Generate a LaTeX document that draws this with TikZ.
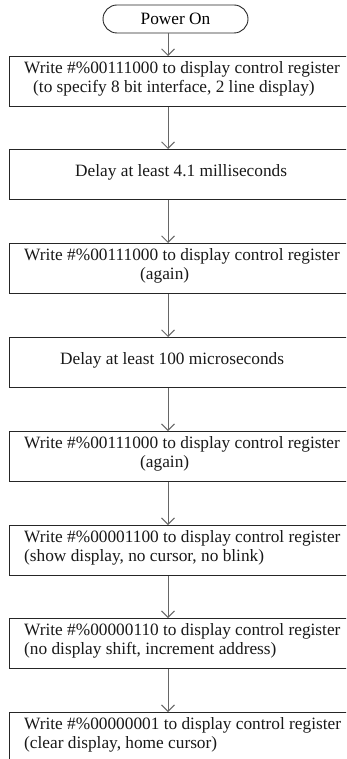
\documentclass[tikz,border=0pt]{standalone}
\usepackage{fontspec}
\setmainfont{Liberation Serif}
\usetikzlibrary{arrows.meta}
\begin{document}
\begin{tikzpicture}[x=1pt,y=-1pt,
  stepbox/.style={draw=black!85, line width=0.9pt, inner sep=0pt,
                  minimum width=351pt, minimum height=50pt, anchor=north west},
  termbox/.style={draw=black!85, line width=0.9pt, rounded corners=14pt,
                  minimum width=145pt, minimum height=28pt, inner sep=0pt,
                  font=\fontsize{17.3}{19}\selectfont},
  flow/.style={draw=black!60, line width=0.9pt,
               -{Straight Barb[length=6.5pt,width=13pt]}},
  txt/.style={inner sep=0pt, font=\fontsize{17.3}{19}\selectfont,
              text=black!90, anchor=mid west},
  ctxt/.style={inner sep=0pt, font=\fontsize{17.3}{19}\selectfont,
              text=black!90, anchor=mid}]
\useasboundingbox (0,0) rectangle (346,759);
\clip (0,0) rectangle (346,759);
\fill[white] (0,0) rectangle (346,759);

% arrow axis
\coordinate (ax) at (168,0);

% start terminal
\node[termbox] (start) at (175.5,19) {Power On};

% process boxes
\node[stepbox] (b1) at (9,56)  {};
\node[stepbox] (b2) at (9,149) {};
\node[stepbox] (b3) at (9,243) {};
\node[stepbox] (b4) at (9,337) {};
\node[stepbox] (b5) at (9,431) {};
\node[stepbox] (b6) at (9,525) {};
\node[stepbox] (b7) at (9,618) {};
\node[stepbox] (b8) at (9,712) {};

% box texts
\node[txt] (t1a) at (24,71.5) {Write \#\%00111000 to display control register};
\node[txt] (t1b) at (33,90.5) {(to specify 8 bit interface, 2 line display)};
\node[txt] (t2)  at (75,174) {Delay at least 4.1 milliseconds};
\node[txt] (t3a) at (24,258.5) {Write \#\%00111000 to display control register};
\node[txt] (t3b) at (140,277.5) {(again)};
\node[txt] (t4)  at (60,362) {Delay at least 100 microseconds};
\node[txt] (t5a) at (24,446.5) {Write \#\%00111000 to display control register};
\node[txt] (t5b) at (140,465.5) {(again)};
\node[txt] (t6a) at (24,540.5) {Write \#\%00001100 to display control register};
\node[txt] (t6b) at (24,559.5) {(show display, no cursor, no blink)};
\node[txt] (t7a) at (24,633.5) {Write \#\%00000110 to display control register};
\node[txt] (t7b) at (24,652.5) {(no display shift, increment address)};
\node[txt] (t8a) at (24,727.5) {Write \#\%00000001 to display control register};
\node[txt] (t8b) at (24,746.5) {(clear display, home cursor)};

% connectors
\draw[flow] (start.south -| ax) -- (b1.north -| ax);
\draw[flow] (b1.south -| ax) -- (b2.north -| ax);
\draw[flow] (b2.south -| ax) -- (b3.north -| ax);
\draw[flow] (b3.south -| ax) -- (b4.north -| ax);
\draw[flow] (b4.south -| ax) -- (b5.north -| ax);
\draw[flow] (b5.south -| ax) -- (b6.north -| ax);
\draw[flow] (b6.south -| ax) -- (b7.north -| ax);
\draw[flow] (b7.south -| ax) -- (b8.north -| ax);
\end{tikzpicture}
\end{document}
